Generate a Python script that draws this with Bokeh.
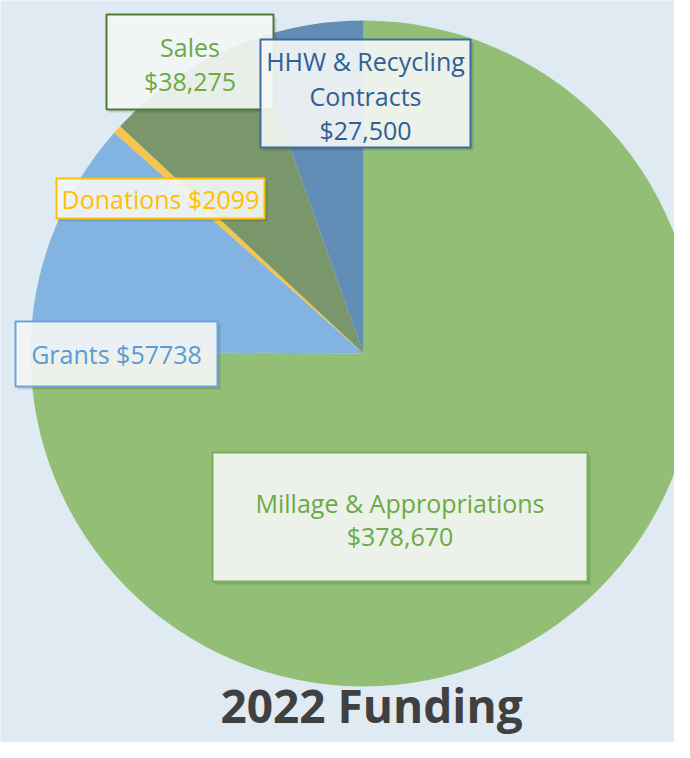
import numpy as np
from bokeh.plotting import figure
from bokeh.models import Range1d, ColumnDataSource
from bokeh.core.properties import value
from bokeh.embed import file_html
from bokeh.resources import INLINE

# ---- data ----
categories = ["Millage & Appropriations", "Grants", "Donations", "Sales",
              "HHW & Recycling Contracts"]
amounts = [378670, 57738, 2099, 38275, 27500]
label_lines = [["Millage & Appropriations", "$378,670"],
               ["Grants $57738"],
               ["Donations $2099"],
               ["Sales", "$38,275"],
               ["HHW & Recycling", "Contracts", "$27,500"]]
title_text = "2022 Funding"

# ---- styles ----
slice_colors = ["#8dbd6e", "#7db0de", "#f6c343", "#6f8e5d", "#5b88b2"]
slice_alpha = [0.95, 0.95, 0.95, 0.9, 0.95]
text_colors = ["#6aab45", "#5b9bd5", "#ffc000", "#6aab45", "#2e6096"]
border_colors = ["#77b152", "#6aa3d8", "#ffc000", "#4f7a35", "#3a6d9e"]

W, H = 674, 742
def X(px):
    return px
def Y(py):
    return H - py

# label box layout (reference pixel coords): left, top, right, bottom, line centers
box_layout = [
    (212, 452, 587, 581, [502, 535]),
    (15, 321, 217, 386, [353]),
    (56, 178, 264, 218, [198]),
    (106, 14, 273, 109, [46, 80]),
    (260, 39, 470, 147, [60, 95, 129]),
]

p = figure(width=W, height=H, x_range=Range1d(0, W), y_range=Range1d(0, H),
           output_backend="svg", toolbar_location=None, min_border=0)
p.axis.visible = False
p.grid.visible = False
p.outline_line_color = None
p.background_fill_color = "#e0eaf2"
p.border_fill_color = "#e0eaf2"

vals = np.array(amounts, dtype=float)
fr = vals / vals.sum()
cum = np.concatenate([[0.0], np.cumsum(fr)])
start = np.pi / 2 - 2 * np.pi * cum[:-1]
end = np.pi / 2 - 2 * np.pi * cum[1:]

src = ColumnDataSource(dict(start=start, end=end, color=slice_colors,
                            alpha=slice_alpha, cat=categories))
cx, cy, r = X(363), Y(353), 333
p.wedge(x=cx, y=cy, radius=r, start_angle="start", end_angle="end",
        direction="clock", fill_color="color", fill_alpha="alpha",
        line_color=None, source=src)

for i, (l, t, rr, b, lines) in enumerate(box_layout):
    # shadow
    p.quad(left=X(l) + 2, right=X(rr) + 3, top=Y(t) - 3, bottom=Y(b) - 3,
           fill_color="#000000", fill_alpha=0.12, line_color=None)
    p.quad(left=X(l), right=X(rr), top=Y(t), bottom=Y(b),
           fill_color="#f7f9f8", fill_alpha=0.9,
           line_color=border_colors[i], line_width=2)
    for txt, ly in zip(label_lines[i], lines):
        p.text(x=[X((l + rr) / 2)], y=[Y(ly)], text=[txt],
               text_font=value("Open Sans"), text_font_size="25px",
               text_color=text_colors[i], text_align="center",
               text_baseline="middle")

p.text(x=[X(371)], y=[Y(704)], text=[title_text],
       text_font=value("Open Sans"), text_font_size="46px",
       text_font_style="bold", text_color="#404040",
       text_align="center", text_baseline="middle")

open("out.html", "w").write(file_html(p, INLINE))
